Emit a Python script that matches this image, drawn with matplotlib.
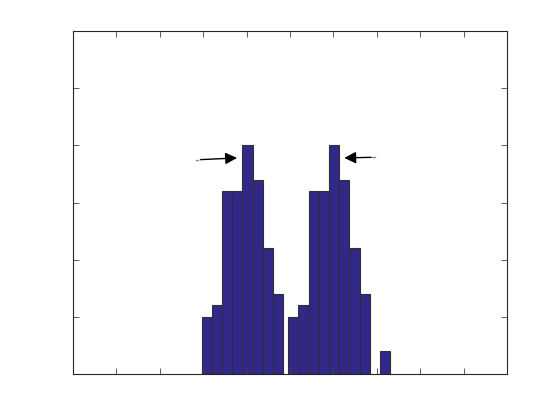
import numpy as np
import matplotlib
matplotlib.use("Agg")
import matplotlib.pyplot as plt

# histogram data
bin_width = 0.235
left_edges_1 = 2.965 + bin_width * np.arange(8)
left_edges_2 = 4.96 + bin_width * np.arange(8)
counts_1 = [5, 6, 16, 16, 20, 17, 11, 7]
counts_2 = [5, 6, 16, 16, 20, 17, 11, 7]
lone_edge = [7.07]
lone_count = [2]

bar_color = "#31288a"
edge_color = "#303030"

fig = plt.figure(figsize=(5.6, 4.2), dpi=100)
ax = fig.add_axes([73 / 560, 46 / 420, 434 / 560, 343 / 420])

for edges, counts in [(left_edges_1, counts_1), (left_edges_2, counts_2), (lone_edge, lone_count)]:
    ax.bar(edges, counts, width=bin_width, align="edge",
           color=bar_color, edgecolor=edge_color, linewidth=0.8)

# arrows pointing at the two peaks
head = "-|>,head_length=0.5,head_width=0.25"
ax.annotate("", xy=(3.78, 18.9), xytext=(2.94, 18.75),
            arrowprops=dict(arrowstyle=head, color="black", lw=1.0,
                            mutation_scale=14, shrinkA=0, shrinkB=0))
ax.plot([2.84, 2.89], [18.72, 18.72], color="#888888", lw=1.0)
ax.annotate("", xy=(6.25, 18.9), xytext=(6.86, 18.95),
            arrowprops=dict(arrowstyle=head, color="black", lw=1.0,
                            mutation_scale=14, shrinkA=0, shrinkB=0))
ax.plot([6.86, 6.96], [18.95, 18.95], color="#888888", lw=1.0)

ax.set_xlim(0, 10)
ax.set_ylim(0, 30)
ax.set_xticks(np.arange(0, 11, 1))
ax.set_yticks(np.arange(0, 31, 5))
ax.tick_params(direction="in", length=4.5, width=0.6, color="#444444",
               top=True, right=True, labelbottom=False, labelleft=False)
for sp in ax.spines.values():
    sp.set_color("#262626")
    sp.set_linewidth(0.8)

fig.savefig("out.png", dpi=100)
